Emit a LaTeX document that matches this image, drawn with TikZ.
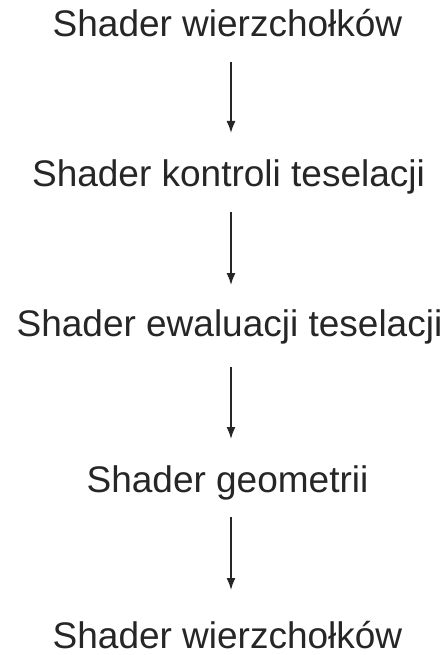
\documentclass[tikz,border=0pt]{standalone}
\usepackage{fontspec}
\setmainfont{Liberation Sans}
\usetikzlibrary{arrows.meta,calc}
\begin{document}
\begin{tikzpicture}[x=1pt,y=-1pt,
  lbl/.style={anchor=base,inner sep=0pt,font=\fontsize{37}{40}\selectfont,text=black!85},
  arr/.style={line width=1.6pt,draw=black!85,-{Latex[length=12pt,width=9pt]}}]
\useasboundingbox[fill=white] (0,0) rectangle (447,655);
\node[lbl] (t1) at (227.5,37) {Shader wierzchołków};
\node[lbl] (t2) at (228.5,186) {Shader kontroli teselacji};
\node[lbl] (t3) at (229.5,336) {Shader ewaluacji teselacji};
\node[lbl] (t4) at (227.5,492) {Shader geometrii};
\node[lbl] (t5) at (227.5,648) {Shader wierzchołków};
\draw[arr] ($(t1.base)+(3.5,25)$) -- ($(t2.base)+(2.5,-53)$);
\draw[arr] ($(t2.base)+(2.5,26)$) -- ($(t3.base)+(1.5,-51)$);
\draw[arr] ($(t3.base)+(1.5,31)$) -- ($(t4.base)+(3.5,-53)$);
\draw[arr] ($(t4.base)+(3.5,25)$) -- ($(t5.base)+(3.5,-58)$);
\end{tikzpicture}
\end{document}
